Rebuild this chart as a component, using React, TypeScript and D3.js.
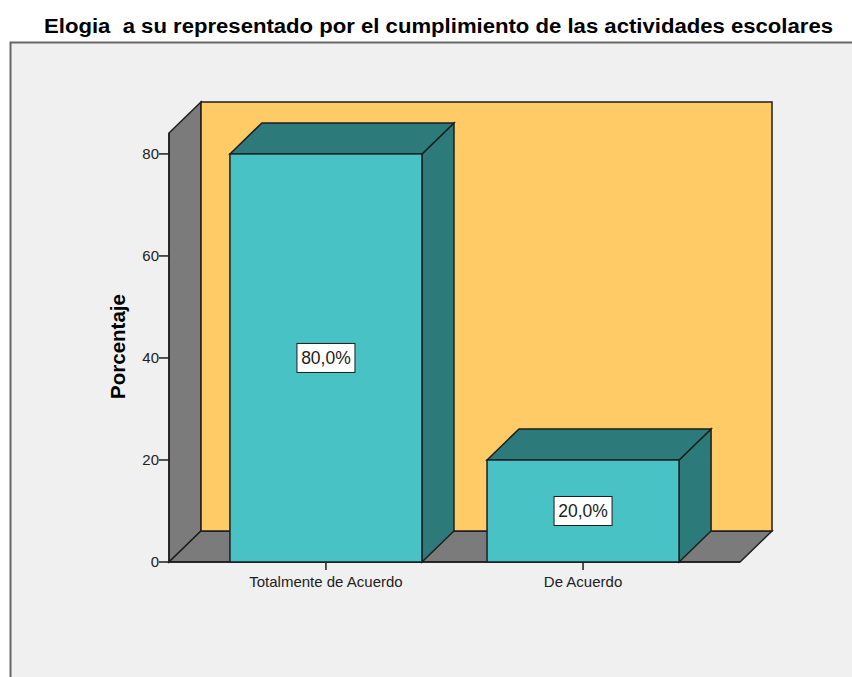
import React from "react";
import * as d3 from "d3";

const categories = ["Totalmente de Acuerdo", "De Acuerdo"];
const values = [80, 20];
const valueLabels = ["80,0%", "20,0%"];
const yTicks = [0, 20, 40, 60, 80];
const title = "Elogia  a su representado por el cumplimiento de las actividades escolares";
const yTitle = "Porcentaje";

export default function App() {
  const W = 852, H = 677;
  const x0 = 169, x1 = 740, yBase = 562, yTop = 133;
  const dx = 32, dy = 31;
  const y = d3.scaleLinear().domain([0, 84.1]).range([yBase, yTop]);
  const x = d3.scaleBand<string>().domain(categories).range([x0, x1]).paddingInner(0.253).paddingOuter(0.237);
  const stroke = "#1e1e1e";
  const pts = (p: number[][]) => p.map((q) => q.join(",")).join(" ");
  const font = "'Liberation Sans', Arial, sans-serif";
  return (
    <svg width={W} height={H} style={{ position: "absolute", left: 0, top: 0, display: "block" }}>
      <rect x={0} y={0} width={W} height={H} fill="#ffffff" />
      <rect x={10.5} y={42.5} width={W + 10} height={H} fill="#f0f0f0" stroke="#666" strokeWidth={2} />
      <text x={44} y={33} textLength={789} lengthAdjust="spacingAndGlyphs" style={{ whiteSpace: "pre" }} fontFamily={font} fontWeight="bold" fontSize={20} fill="#000">{title}</text>
      {/* left wall */}
      <polygon points={pts([[x0, yTop], [x0 + dx, yTop - dy], [x0 + dx, yBase - dy], [x0, yBase]])} fill="#7b7b7b" stroke={stroke} strokeWidth={1.5} />
      {/* floor */}
      <polygon points={pts([[x0, yBase], [x0 + dx, yBase - dy], [x1 + dx, yBase - dy], [x1, yBase]])} fill="#7b7b7b" stroke={stroke} strokeWidth={1.5} />
      {/* back wall */}
      <rect x={x0 + dx} y={yTop - dy} width={x1 - x0} height={yBase - yTop} fill="#fecb67" stroke={stroke} strokeWidth={1.5} />
      {/* axes */}
      <line x1={x0} x2={x0} y1={yTop} y2={yBase} stroke={stroke} strokeWidth={1.5} />
      <line x1={x0} x2={x1} y1={yBase} y2={yBase} stroke={stroke} strokeWidth={1.5} />
      {yTicks.map((t) => (
        <g key={t}>
          <line x1={x0 - 10} x2={x0} y1={y(t)} y2={y(t)} stroke={stroke} strokeWidth={1.5} />
          <text x={x0 - 10} y={y(t)} dy="0.36em" textAnchor="end" fontFamily={font} fontSize={15} fill="#222">{t}</text>
        </g>
      ))}
      <text transform={`translate(125,${346.5}) rotate(-90)`} textAnchor="middle" fontFamily={font} fontWeight="bold" fontSize={20.5} fill="#000">{yTitle}</text>
      {categories.map((c, i) => {
        const bx = x(c)!;
        const bw = x.bandwidth();
        const top = y(values[i]);
        const cx = bx + bw / 2;
        const mid = y(values[i] / 2);
        return (
          <g key={c}>
            <polygon points={pts([[bx + bw, top], [bx + bw + dx, top - dy], [bx + bw + dx, yBase - dy], [bx + bw, yBase]])} fill="#2c7a7a" stroke={stroke} strokeWidth={1.5} />
            <polygon points={pts([[bx, top], [bx + dx, top - dy], [bx + bw + dx, top - dy], [bx + bw, top]])} fill="#2c7a7a" stroke={stroke} strokeWidth={1.5} />
            <rect x={bx} y={top} width={bw} height={yBase - top} fill="#48c2c5" stroke={stroke} strokeWidth={1.5} />
            <rect x={cx - 29} y={mid - 14.5} width={58} height={29} fill="#ffffff" stroke={stroke} strokeWidth={1} />
            <text x={cx} y={mid} dy="0.36em" textAnchor="middle" fontFamily={font} fontSize={17.5} fill="#222">{valueLabels[i]}</text>
            <line x1={cx} x2={cx} y1={yBase} y2={yBase + 8} stroke={stroke} strokeWidth={1.5} />
            <text x={cx} y={yBase + 20} dy="0.35em" textAnchor="middle" fontFamily={font} fontSize={15} fill="#222">{c}</text>
          </g>
        );
      })}
    </svg>
  );
}
